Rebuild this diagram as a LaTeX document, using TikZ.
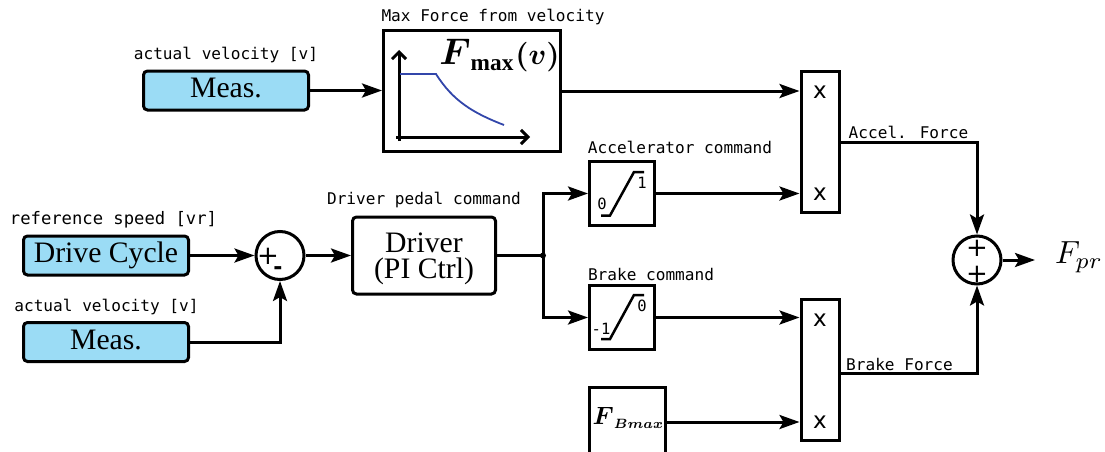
\documentclass[tikz,border=0pt]{standalone}
\usepackage{amsmath,amssymb}
\usepackage{xcolor}
\usepackage{fontspec}
\usepackage{tikz}
\usetikzlibrary{positioning,arrows.meta,calc}
\setmainfont{Liberation Serif}
\newfontfamily\labelfont{DejaVu Sans Mono}
\newfontfamily\signfont{DejaVu Sans}
\definecolor{boxblue}{RGB}{155,220,245}
\definecolor{curveblue}{RGB}{50,70,170}
\tikzset{
  bbox/.style  = {draw, rounded corners=4pt, line width=3pt, fill=boxblue, align=center, font=\fontsize{29.7}{28}\selectfont, inner sep=0pt, minimum width=165pt, minimum height=39pt, text height=20pt, text depth=6pt},
  wbox/.style  = {draw, line width=3pt, fill=white, inner sep=0pt},
  sumc/.style  = {draw, circle, line width=3pt, minimum size=48pt, inner sep=0pt},
  lbl/.style   = {inner sep=0pt, font=\labelfont\fontsize{16.1}{16}\selectfont},
  small/.style = {inner sep=0pt, font=\labelfont\fontsize{15.5}{16}\selectfont},
  sign/.style  = {inner sep=0pt, font=\signfont\fontsize{26}{26}\selectfont},
  xsign/.style = {inner sep=0pt, font=\signfont\fontsize{23}{23}\selectfont},
  flow/.style  = {-{Stealth[length=20pt,width=14pt,inset=4pt]}, line width=3pt},
  wire/.style  = {line width=3pt},
}
\begin{document}
\begin{tikzpicture}[x=1pt,y=-1pt]
  \useasboundingbox (0,0) rectangle (1105,452);
  \node[bbox] (meastop) at (226,90.5) {Meas.};
  \node[bbox] (cycle) at (106,255.5) {Drive Cycle};
  \node[bbox] (measlow) at (106,342) {Meas.};
  \node[wbox, minimum width=177pt, minimum height=120pt] (fmax) at (472,91) {};
  \node[wbox, rounded corners=4pt, minimum width=143pt, minimum height=77pt, align=center, font=\fontsize{29.7}{26}\selectfont] (driver) at (424,255.5) {\rule{0pt}{26pt}Driver\\(PI Ctrl)};
  \node[sumc] (suma) at (280,255.5) {};
  \node[wbox, minimum width=65pt, minimum height=64pt] (acc) at (622,193.5) {};
  \node[wbox, minimum width=65pt, minimum height=64pt] (brk) at (622,317.5) {};
  \node[wbox, minimum width=76pt, minimum height=70pt] (fbmax) at (627.5,422) {};
  \node[wbox, minimum width=38pt, minimum height=141pt] (multa) at (820,142) {};
  \node[wbox, minimum width=38pt, minimum height=141pt] (multb) at (820,369.5) {};
  \node[sumc] (sumb) at (977,260) {};
  \node[inner sep=0pt, scale=3.2] (fpr) at (1079,257) {$F_{pr}$};
  \node[inner sep=0pt, scale=3.7] (fmaxtxt) at (499.5,56) {$\boldsymbol{F}_{\scalebox{0.9}{$\scriptstyle\mathbf{max}$}}\scalebox{0.8}{$\boldsymbol{(v)}$}$};
  \node[inner sep=0pt, scale=2.5] (fbtxt) at (628.5,418) {$\boldsymbol{F}_{\scalebox{0.77}{$\scriptstyle\boldsymbol{Bmax}$}}$};
  \node[lbl] (lmeastop) at (226,55.5) {actual velocity [v]};
  \node[lbl] (lfmax) at (493,17.5) {Max Force from velocity};
  \node[lbl] (lacc) at (680,147) {Accelerator command};
  \node[lbl] (ldriver) at (424,200.5) {Driver pedal command};
  \node[lbl, font=\labelfont\fontsize{17.2}{17}\selectfont] (lcycle) at (113.5,220) {reference speed [vr]};
  \node[lbl] (lmeaslow) at (106.5,307.5) {actual velocity [v]};
  \node[lbl] (lbrk) at (651,274) {Brake command};
  \node[lbl] (laccf) at (908.5,132.5) {Accel. Force};
  \node[lbl] (lbrkf) at (899.5,364.5) {Brake Force};
  \node[small] (azero) at (602,204) {0};
  \node[small] (aone) at (642,183) {1};
  \node[small] (bone) at (601,329) {-1};
  \node[small] (bzero) at (642,306) {0};
  \node[xsign] (xa) at (820,92) {x};
  \node[xsign] (xb) at (820,194) {x};
  \node[xsign] (xc) at (820,320) {x};
  \node[xsign] (xd) at (820,422) {x};
  \node[sign] (pa) at (268,256) {+};
  \node[inner sep=0pt, font=\signfont\bfseries\fontsize{22}{22}\selectfont] (ma) at (278,271) {-};
  \node[sign] (pb) at (977,248) {+};
  \node[sign] (pc) at (977,274) {+};
  \coordinate (junc) at (543,255.5);
  \draw[flow] (meastop.east) -- (meastop.east -| fmax.west);
  \draw[flow] (fmax.east) -- (fmax.east -| multa.west);
  \draw[flow] (cycle) -- (suma);
  \draw[flow] (measlow.east) -| (suma.south);
  \draw[flow] (suma) -- (driver);
  \draw[wire] (driver.east) -- (junc);
  \fill (junc) circle (3pt);
  \draw[flow] (junc) |- (acc.west);
  \draw[flow] (junc) |- (brk.west);
  \draw[flow] (acc.east) -- (acc.east -| multa.west);
  \draw[flow] (brk.east) -- (brk.east -| multb.west);
  \draw[flow] (fbmax.east) -- (fbmax.east -| multb.west);
  \draw[flow] (multa.east) -| (sumb.north);
  \draw[flow] ([yshift=-3.5pt]multb.east) -| (sumb.south);
  \draw[flow] (sumb) -- (1035,260);
  \draw[line width=3pt, -{Straight Barb[length=7pt,width=14pt]}] (399,141) -- (399,50);
  \draw[line width=3pt, -{Straight Barb[length=7pt,width=14pt]}] (396,137) -- (530,137);
  \draw[line width=1.8pt, curveblue] (400,74) -- (436,74) .. controls (453,101) and (473,113) .. (504,125);
  \draw[line width=2.5pt] (601,215.5) -- (610,215.5) -- (634,172) -- (644,172);
  \draw[line width=2.5pt] (601,339) -- (610,339) -- (634,295) -- (644,295);
\end{tikzpicture}
\end{document}
